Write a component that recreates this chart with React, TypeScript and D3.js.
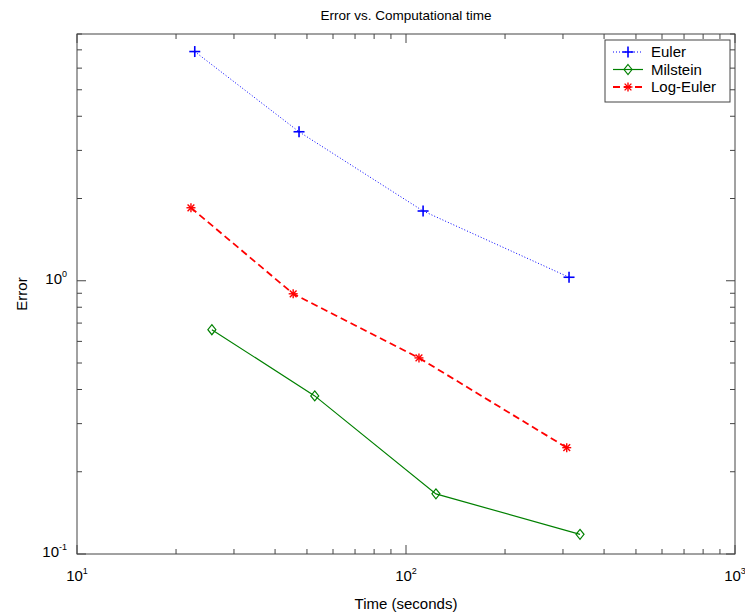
import React from "react";
import * as d3 from "d3";

const eulerTime = [22.8, 47.3, 112.7, 313];
const eulerErr = [6.9, 3.51, 1.8, 1.03];
const milsteinTime = [25.7, 52.8, 123.3, 338];
const milsteinErr = [0.662, 0.379, 0.166, 0.118];
const logEulerTime = [22.2, 45.4, 109.5, 308];
const logEulerErr = [1.85, 0.896, 0.522, 0.245];
const xMajor = [10, 100, 1000];
const xMajorExp = ["1", "2", "3"];
const yMajor = [0.1, 1];
const yMajorExp = ["-1", "0"];
const legendNames = ["Euler", "Milstein", "Log-Euler"];

const W = 745, H = 614;
const L = 77, R = 735, T = 34, B = 554;
const FONT = "Arial, 'Liberation Sans', Helvetica, sans-serif";
const AX = "#444";

export default function App() {
  const x = d3.scaleLog().domain([10, 1000]).range([L, R]);
  const y = d3.scaleLog().domain([0.1, 8]).range([B, T]);
  const line = d3.line<[number, number]>().x(d => x(d[0])).y(d => y(d[1]));

  const xMinor: number[] = [];
  for (const d of [10, 100]) for (let k = 2; k <= 9; k++) xMinor.push(d * k);
  const yMinor: number[] = [];
  for (const d of [0.1, 1]) for (let k = 2; k <= 9; k++) if (d * k <= 8) yMinor.push(d * k);

  const series = [
    { name: legendNames[0], t: eulerTime, e: eulerErr, color: "#0000ff", dash: "1,2", w: 1, marker: "plus" },
    { name: legendNames[1], t: milsteinTime, e: milsteinErr, color: "#008000", dash: "", w: 1.2, marker: "diamond" },
    { name: legendNames[2], t: logEulerTime, e: logEulerErr, color: "#ff0000", dash: "7,4", w: 1.8, marker: "star" },
  ];

  const marker = (type: string, cx: number, cy: number, color: string, key: any) => {
    if (type === "plus") {
      return (
        <g key={key} stroke={color} strokeWidth={1.6}>
          <line x1={cx - 5.5} x2={cx + 5.5} y1={cy} y2={cy} />
          <line x1={cx} x2={cx} y1={cy - 5.5} y2={cy + 5.5} />
        </g>
      );
    }
    if (type === "diamond") {
      return (
        <polygon key={key} points={`${cx},${cy - 5} ${cx + 4},${cy} ${cx},${cy + 5} ${cx - 4},${cy}`}
          fill="none" stroke={color} strokeWidth={1.2} />
      );
    }
    const r = 4.5;
    return (
      <g key={key} stroke={color} strokeWidth={1.4}>
        <line x1={cx - r} x2={cx + r} y1={cy} y2={cy} />
        <line x1={cx} x2={cx} y1={cy - r} y2={cy + r} />
        <line x1={cx - r * 0.75} x2={cx + r * 0.75} y1={cy - r * 0.75} y2={cy + r * 0.75} />
        <line x1={cx - r * 0.75} x2={cx + r * 0.75} y1={cy + r * 0.75} y2={cy - r * 0.75} />
      </g>
    );
  };

  const lx = 605, ly = 40, lw = 125, lh = 62;

  return (
    <svg width={W} height={H} style={{ position: "absolute", left: 0, top: 0, background: "#fff" }}
      fontFamily={FONT}>
      <rect x={0} y={0} width={W} height={H} fill="#fff" />
      <text x={(L + R) / 2} y={20} textAnchor="middle" fontSize={13.5}>Error vs. Computational time</text>
      <rect x={L} y={T} width={R - L} height={B - T} fill="none" stroke={AX} strokeWidth={1} />
      {xMinor.map((v, i) => (
        <g key={"xm" + i} stroke={AX}>
          <line x1={x(v)} x2={x(v)} y1={B} y2={B - 5} />
          <line x1={x(v)} x2={x(v)} y1={T} y2={T + 5} />
        </g>
      ))}
      {xMajor.map((v, i) => (
        <g key={"xM" + i}>
          <line x1={x(v)} x2={x(v)} y1={B} y2={B - 9} stroke={AX} />
          <line x1={x(v)} x2={x(v)} y1={T} y2={T + 9} stroke={AX} />
          <text x={x(v)} y={B + 27} textAnchor="middle" fontSize={15}>
            10<tspan dy={-7} fontSize={9}>{xMajorExp[i]}</tspan>
          </text>
        </g>
      ))}
      {yMinor.map((v, i) => (
        <g key={"ym" + i} stroke={AX}>
          <line x1={L} x2={L + 5} y1={y(v)} y2={y(v)} />
          <line x1={R} x2={R - 5} y1={y(v)} y2={y(v)} />
        </g>
      ))}
      {yMajor.map((v, i) => (
        <g key={"yM" + i}>
          <line x1={L} x2={L + 9} y1={y(v)} y2={y(v)} stroke={AX} />
          <line x1={R} x2={R - 9} y1={y(v)} y2={y(v)} stroke={AX} />
          <text x={L - 10} y={y(v) + 3} textAnchor="end" fontSize={15}>
            10<tspan dy={-7} fontSize={9}>{yMajorExp[i]}</tspan>
          </text>
        </g>
      ))}
      <text x={(L + R) / 2} y={609} textAnchor="middle" fontSize={15}>Time (seconds)</text>
      <text transform={`translate(27,${(T + B) / 2}) rotate(-90)`} textAnchor="middle" fontSize={15}>Error</text>
      {series.map((s, si) => {
        const pts = s.t.map((t, i) => [t, s.e[i]] as [number, number]);
        return (
          <g key={"s" + si}>
            <path d={line(pts) || ""} fill="none" stroke={s.color} strokeWidth={s.w}
              strokeDasharray={s.dash || undefined} />
            {pts.map((p, i) => marker(s.marker, x(p[0]), y(p[1]), s.color, i))}
          </g>
        );
      })}
      <rect x={lx} y={ly} width={lw} height={lh} fill="#fff" stroke={AX} />
      {series.map((s, i) => {
        const yy = ly + 12 + i * 17.5;
        return (
          <g key={"l" + i}>
            <line x1={lx + 8} x2={lx + 38} y1={yy} y2={yy} stroke={s.color}
              strokeWidth={s.w} strokeDasharray={s.dash || undefined} />
            {marker(s.marker, lx + 23, yy, s.color, "m")}
            <text x={lx + 46} y={yy + 5} fontSize={15}>{s.name}</text>
          </g>
        );
      })}
    </svg>
  );
}
